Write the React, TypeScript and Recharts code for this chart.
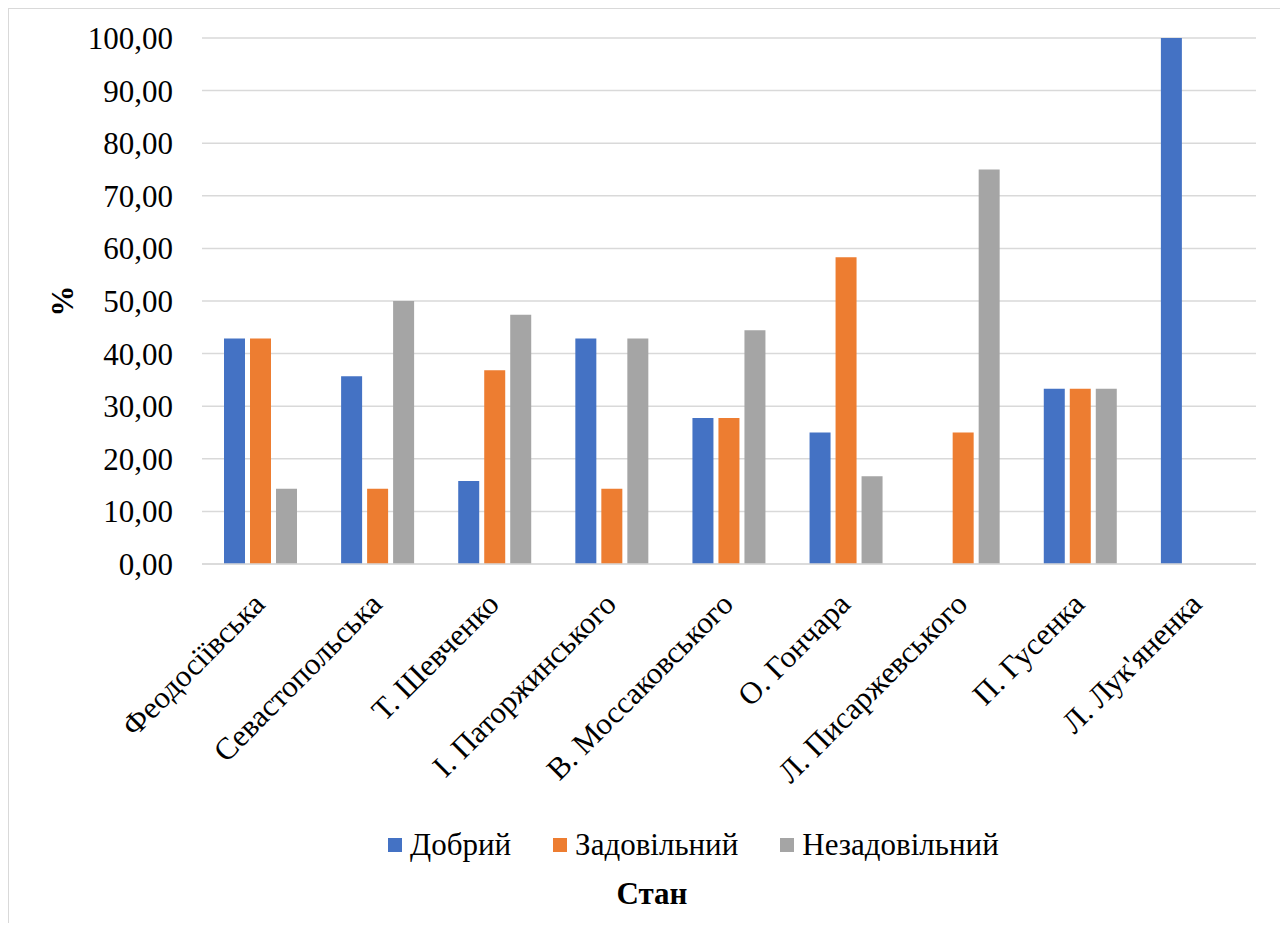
import { Bar, BarChart, CartesianGrid, Legend, XAxis, YAxis } from "recharts";

const categories = [
  "Феодосіївська",
  "Севастопольська",
  "Т. Шевченко",
  "І. Паторжинського",
  "В. Моссаковського",
  "О. Гончара",
  "Л. Писаржевського",
  "П. Гусенка",
  "Л. Лук'яненка",
];
const dobryi = [42.86, 35.71, 15.79, 42.86, 27.78, 25.0, 0, 33.33, 100];
const zadovilnyi = [42.86, 14.29, 36.84, 14.29, 27.78, 58.33, 25.0, 33.33, 0];
const nezadovilnyi = [14.29, 50.0, 47.37, 42.86, 44.44, 16.67, 75.0, 33.33, 0];
const yTicks = [0, 10, 20, 30, 40, 50, 60, 70, 80, 90, 100];

const seriesNames = ["Добрий", "Задовільний", "Незадовільний"];
const seriesColors = ["#4472C4", "#ED7D31", "#A5A5A5"];

const FONT = "Liberation Serif";
const W = 1271;
const H = 914;

const chartData = categories.map((name, i) => ({
  name,
  dobryi: dobryi[i],
  zadovilnyi: zadovilnyi[i],
  nezadovilnyi: nezadovilnyi[i],
}));

const formatTick = (v: number) => v.toFixed(2).replace(".", ",");

// підписи категорій під кутом 45°
function XTick(props: any) {
  const { x, y, payload } = props;
  const ax = x + 6;
  const ay = y + 42;
  return (
    <text
      x={ax}
      y={ay}
      transform={`rotate(-45, ${ax}, ${ay})`}
      textAnchor="end"
      style={{ fontFamily: FONT, fontSize: 31 }}
      fill="#000"
    >
      {payload.value}
    </text>
  );
}

function YTick(props: any) {
  const { x, y, payload } = props;
  return (
    <text
      x={x}
      y={y}
      dy="0.355em"
      textAnchor="end"
      style={{ fontFamily: FONT, fontSize: 31 }}
      fill="#000"
    >
      {formatTick(payload.value)}
    </text>
  );
}

function PercentLabel(props: any) {
  const vb = props.viewBox || { x: 0, y: 0, height: 0 };
  const cx = 53;
  const cy = vb.y + vb.height / 2;
  return (
    <text
      x={cx}
      y={cy}
      transform={`rotate(-90, ${cx}, ${cy})`}
      textAnchor="middle"
      dominantBaseline="central"
      style={{ fontFamily: FONT, fontSize: 31, fontWeight: "bold" }}
      fill="#000"
    >
      %
    </text>
  );
}

// легенда + назва осі "Стан" під нею
function LegendBlock() {
  return (
    <div style={{ position: "relative", width: W, fontFamily: FONT, color: "#000" }}>
      <div style={{ display: "flex", alignItems: "center", marginLeft: 379, height: 40 }}>
        {seriesNames.map((n, i) => (
          <div key={n} style={{ display: "flex", alignItems: "center", marginRight: 42 }}>
            <span
              style={{
                display: "inline-block",
                width: 14,
                height: 14,
                background: seriesColors[i],
                marginRight: 8,
              }}
            />
            <span style={{ fontSize: 31, lineHeight: "40px", fontFamily: FONT }}>{n}</span>
          </div>
        ))}
      </div>
      <div
        style={{
          position: "absolute",
          top: 49,
          left: 643 - 100,
          width: 200,
          textAlign: "center",
          fontSize: 31,
          fontWeight: "bold",
          lineHeight: "40px",
          fontFamily: FONT,
        }}
      >
        Стан
      </div>
    </div>
  );
}

export default function App() {
  return (
    <div
      style={{
        width: 1276,
        height: 916,
        marginLeft: -1,
        marginTop: -1,
        boxSizing: "border-box",
        border: "2px solid #d9d9d9",
        borderBottom: "none",
        background: "#fff",
        overflow: "hidden",
        fontFamily: FONT,
      }}
    >
      <BarChart
        width={W + 1}
        height={H}
        data={chartData}
        margin={{ top: 29, right: 25, bottom: 119, left: 1 }}
        barSize={21}
        barGap={5}
        style={{ fontFamily: FONT }}
      >
        <CartesianGrid vertical={false} stroke="#d9d9d9" strokeWidth={1.5} />
        <XAxis
          dataKey="name"
          height={240}
          interval={0}
          tickLine={false}
          tickSize={0}
          tickMargin={0}
          axisLine={{ stroke: "#d9d9d9", strokeWidth: 1.5 }}
          tick={<XTick />}
        />
        <YAxis
          width={192}
          domain={[0, 100]}
          ticks={yTicks}
          axisLine={false}
          tickLine={false}
          tickSize={0}
          tickMargin={29}
          tick={<YTick />}
          label={<PercentLabel />}
        />
        <Legend
          layout="horizontal"
          verticalAlign="middle"
          align="center"
          wrapperStyle={{ top: 816, left: 0, width: W }}
          content={() => <LegendBlock />}
        />
        <Bar dataKey="dobryi" name="Добрий" fill={seriesColors[0]} isAnimationActive={false} />
        <Bar dataKey="zadovilnyi" name="Задовільний" fill={seriesColors[1]} isAnimationActive={false} />
        <Bar dataKey="nezadovilnyi" name="Незадовільний" fill={seriesColors[2]} isAnimationActive={false} />
      </BarChart>
    </div>
  );
}
